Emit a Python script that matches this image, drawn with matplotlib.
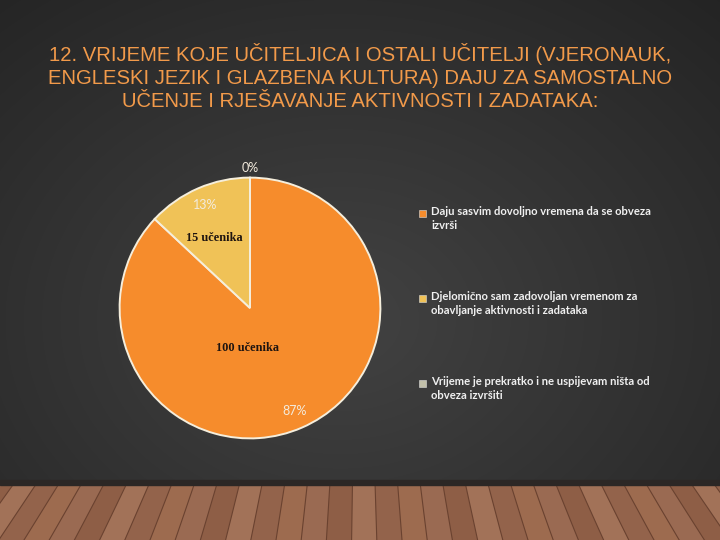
import numpy as np
import matplotlib
matplotlib.use("Agg")
import matplotlib.pyplot as plt
from matplotlib.patches import Rectangle

# ---- data ----
categories = [
    "Daju sasvim dovoljno vremena da se obveza\nizvrši",
    "Djelomično sam zadovoljan vremenom za\nobavljanje aktivnosti i zadataka",
    "Vrijeme je prekratko i ne uspijevam ništa od\nobveza izvršiti",
]
counts = [100, 15, 0]
count_labels = ["100 učenika", "15 učenika", ""]
colors = ["#F68C2C", "#F0C257", "#C2C0AA"]
title = ("12. VRIJEME KOJE UČITELJICA I OSTALI UČITELJI (VJERONAUK,\n"
         "ENGLESKI JEZIK I GLAZBENA KULTURA) DAJU ZA SAMOSTALNO\n"
         "UČENJE I RJEŠAVANJE AKTIVNOSTI I ZADATAKA:")

W, H = 720, 540
fig = plt.figure(figsize=(7.2, 5.4), dpi=100)

# ---- background ----
bg = fig.add_axes([0, 0, 1, 1])
bg.set_axis_off()
yy, xx = np.mgrid[0:H, 0:W]
d = np.sqrt(((xx - 340) / 560.0) ** 2 + ((yy - 320) / 440.0) ** 2)
v = np.clip(0.26 - 0.12 * d, 0.09, 0.27)
img = np.dstack([v, v, v])
bg.imshow(img, extent=[0, W, H, 0], aspect="auto", interpolation="bilinear")
floor_top = 482
bg.add_patch(Rectangle((0, floor_top), W, H - floor_top, color="#94644A", zorder=2))
# plank strips
xs_top = np.arange(-30, W + 60, 22.5)
shades = ["#9a6a52", "#8e5e46", "#a27258", "#93634b", "#9d6b4f"]
for i in range(len(xs_top) - 1):
    xt, xt2 = xs_top[i], xs_top[i + 1]
    xb = 360 + (xt - 360) * 1.12
    xb2 = 360 + (xt2 - 360) * 1.12
    bg.fill([xt, xt2, xb2, xb], [floor_top, floor_top, H, H],
            color=shades[i % len(shades)], zorder=2.5, lw=0)
    bg.plot([xt, xb], [floor_top, H], color="#6a4230", lw=0.8, zorder=3)
bg.add_patch(Rectangle((0, floor_top - 2), W, 5, color="#2c2725", zorder=4))
bg.set_xlim(0, W)
bg.set_ylim(H, 0)

# ---- title ----
fig.text(0.5, 1 - 77 / H, title, ha="center", va="center", color="#F29A4A",
         fontsize=14.6, family="Liberation Sans", linespacing=1.28)

# ---- pie ----
cx, cy, r = 250, 308, 133
ax = fig.add_axes([(cx - r) / W, (H - cy - r) / H, 2 * r / W, 2 * r / H])
ax.set_axis_off()

def pct_fmt(p):
    return f"{p:.0f}%" if p > 0.5 else ""

wedges, texts, autotexts = ax.pie(
    counts, colors=colors, startangle=90, counterclock=False,
    autopct=pct_fmt, pctdistance=0.865,
    wedgeprops=dict(edgecolor="#F5EEDC", linewidth=1.4),
    textprops=dict(color="#F3EBDD", fontsize=9, family="Lato"))
ax.set_xlim(-1.02, 1.02)
ax.set_ylim(-1.02, 1.02)

# zero-value label at top
total = sum(counts)
ax.text(0, 1.07, f"{100 * counts[2] / total:.0f}%", ha="center", va="center",
        color="#F3EBDD", fontsize=9, family="Lato")

# count labels inside slices
pos = [(-0.02, -0.31), (-0.27, 0.54)]
for (px, py), lab in zip(pos, count_labels[:2]):
    ax.text(px, py, lab, ha="center", va="center", color="#1E1410",
            fontsize=8.8, fontweight="bold", family="Liberation Serif")

# ---- legend ----
leg_y = [213, 298, 383]
for c, lab, y in zip(colors, categories, leg_y):
    fig.patches.append(Rectangle(((419) / W, 1 - (y + 4) / H), 7 / W, 7 / H,
                                 transform=fig.transFigure, facecolor=c,
                                 edgecolor="#dddddd", lw=0.4))
    fig.text(431 / W, 1 - (y - 7) / H, lab, ha="left", va="top",
             color="#F0F0F0", fontsize=8.1, fontweight="bold", family="Lato",
             linespacing=1.38)

fig.savefig("out.png", dpi=100)
